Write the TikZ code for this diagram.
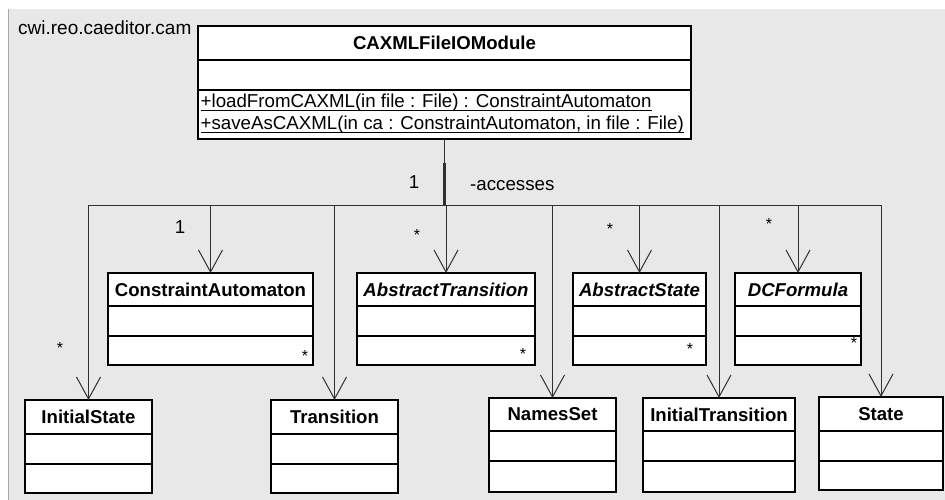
\documentclass[tikz,border=0pt]{standalone}
\usepackage{fontspec}
\setmainfont{Liberation Sans}
\usetikzlibrary{arrows.meta,calc}
\definecolor{bggray}{HTML}{E8E8E8}
\definecolor{edgegray}{HTML}{A8A8A8}
\definecolor{linegray}{HTML}{303030}
\newcommand\umlcls[9]{%
  \node[clsbox,minimum width=#4pt,minimum height=#5pt] (#1) at (#2,#3) {};
  \draw[divider] ($(#1.north west)+(0,#6)$) -- ($(#1.north east)+(0,#6)$);
  \draw[divider] ($(#1.north west)+(0,#7)$) -- ($(#1.north east)+(0,#7)$);
  \node[#8] (#1-t) at ($(#1.north)+(0,#6/2)$) {#9};
}
\begin{document}
\begin{tikzpicture}[x=1pt,y=-1pt,
  clsbox/.style={draw=black,fill=white,line width=1.6pt,inner sep=0pt,outer sep=0pt,anchor=north west},
  divider/.style={draw=black,line width=1.6pt},
  ttl/.style={font=\fontsize{18.6}{20}\selectfont\bfseries,inner sep=0pt},
  ittl/.style={font=\fontsize{18.6}{20}\selectfont\bfseries\itshape,inner sep=0pt},
  lbl/.style={font=\fontsize{18.7}{20}\selectfont,inner sep=0pt},
  mstar/.style={font=\fontsize{16}{18}\selectfont,inner sep=0pt},
  assoc/.style={draw=linegray,line width=1pt},
  arr/.style={assoc,-{Straight Barb[length=22pt,width=24pt]}}
]
\useasboundingbox (0,0) rectangle (945,500);
% background
\fill[white] (0,0) rectangle (945,500);
\fill[bggray] (8,9) rectangle (945,500);
\draw[edgegray,line width=1pt] (8.5,9) -- (8.5,500);

% package label
\node[lbl,anchor=west,font=\fontsize{19}{20}\selectfont] (pkg) at (18,28) {cwi.reo.caeditor.cam};

% top class
\umlcls{top}{198}{26}{493}{113}{34}{64}{ttl}{CAXMLFileIOModule}
\node[lbl,anchor=base west] (op1) at (200.5,108) {+loadFromCAXML(in file : File) : ConstraintAutomaton};
\node[lbl,anchor=base west] (op2) at (200.5,130) {+saveAsCAXML(in ca : ConstraintAutomaton, in file : File)};
\draw[line width=0.9pt] ($(op1.base west)+(0,2)$) -- ($(op1.base east)+(0,2)$);
\draw[line width=0.9pt] ($(op2.base west)+(0,2)$) -- ($(op2.base east)+(0,2)$);

% upper row
\umlcls{ca}{108}{273}{205}{92}{33}{63}{ttl}{ConstraintAutomaton}
\umlcls{at}{357}{273}{178}{92}{33}{63}{ittl}{AbstractTransition}
\umlcls{as}{573}{273}{133}{92}{33}{63}{ittl}{AbstractState}
\umlcls{dc}{735}{273}{126}{92}{33}{63}{ittl}{DCFormula}

% lower row
\umlcls{is}{25}{400}{127}{93}{34}{64}{ttl}{InitialState}
\umlcls{tr}{271}{400}{127}{93}{34}{64}{ttl}{Transition}
\umlcls{ns}{489}{398}{127}{94}{33}{63}{ttl}{NamesSet}
\umlcls{it}{643}{398}{152}{94}{33}{63}{ttl}{InitialTransition}
\umlcls{st}{819}{397}{124}{93}{34}{64}{ttl}{State}

% association bus
\coordinate (bus) at (top.south |- 0,205);
\coordinate (thk) at (top.south |- 0,163);
\draw[assoc] (top.south) -- (bus);
\draw[assoc,line width=2.6pt] (thk) -- (bus);
\draw[assoc] (is.north |- bus) -- (st.north |- bus);
\foreach \n in {is,ca,tr,at,ns,as,it,dc,st}{
  \draw[arr] (\n.north |- bus) -- (\n.north);
}

% labels
\node[lbl,anchor=base] (m1) at (414,188) {1};
\node[lbl,anchor=base west] (acc) at (470,190) {-accesses};
\node[lbl,anchor=base] (m2) at (180,233) {1};

% multiplicities
\node[mstar] (s1) at (60,347.5) {*};
\node[mstar] (s2) at (417,234.5) {*};
\node[mstar] (s3) at (610,228.5) {*};
\node[mstar] (s4) at (769,223.5) {*};
\node[mstar] (s5) at (305,355.5) {*};
\node[mstar] (s6) at (523,353.5) {*};
\node[mstar] (s7) at (690,348.5) {*};
\node[mstar] (s8) at (854,342.5) {*};
\end{tikzpicture}
\end{document}
